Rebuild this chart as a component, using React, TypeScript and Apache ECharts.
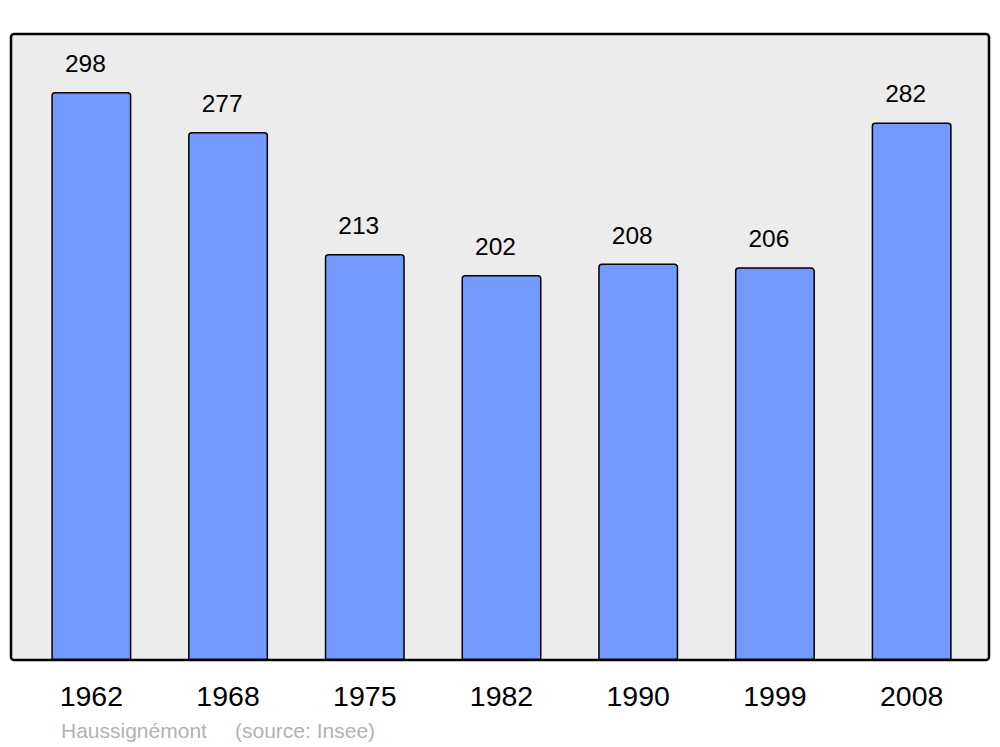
import React, { useEffect, useRef } from "react";
import * as echarts from "echarts";

const years = ["1962", "1968", "1975", "1982", "1990", "1999", "2008"];
const population = [298, 277, 213, 202, 208, 206, 282];
const footerName = "Haussignémont";
const footerSource = "(source: Insee)";

export default function App() {
  const ref = useRef<HTMLDivElement>(null);
  useEffect(() => {
    if (!ref.current) return;
    const chart = echarts.init(ref.current, undefined, { renderer: "svg" });
    chart.setOption({
      animation: false,
      textStyle: { fontFamily: "Liberation Sans, Arial, sans-serif" },
      graphic: [
        {
          type: "rect",
          z: -10,
          shape: { x: 11, y: 34, width: 978, height: 626, r: 3 },
          style: { fill: "#ececec", stroke: "#000", lineWidth: 2.5 },
        },
        {
          type: "text",
          x: 61,
          y: 730,
          style: {
            text: footerName,
            fill: "#b3b3b3",
            font: "21px 'Liberation Sans', Arial, sans-serif",
            textVerticalAlign: "middle",
          },
        },
        {
          type: "text",
          x: 235,
          y: 730,
          style: {
            text: footerSource,
            fill: "#b3b3b3",
            font: "21px 'Liberation Sans', Arial, sans-serif",
            textVerticalAlign: "middle",
          },
        },
      ],
      grid: { left: 23, right: 20, top: 34, bottom: 87 },
      xAxis: {
        type: "category",
        data: years,
        axisLine: { show: false },
        axisTick: { show: false },
        axisLabel: {
          color: "#000",
          fontSize: 28.5,
          margin: 21,
          fontFamily: "Liberation Sans, Arial, sans-serif",
        },
      },
      yAxis: {
        type: "value",
        min: 0,
        max: 328.4,
        show: false,
        splitLine: { show: false },
      },
      series: [
        {
          type: "bar",
          data: population,
          barWidth: 80,
          itemStyle: {
            color: "#7399ff",
            borderColor: "#000",
            borderWidth: 1.5,
            borderRadius: [3, 3, 0, 0],
          },
          label: {
            show: true,
            position: "top",
            distance: 16,
            offset: [-6, 0],
            color: "#000",
            fontSize: 24.5,
            fontFamily: "Liberation Sans, Arial, sans-serif",
          },
        },
      ],
    });
    return () => chart.dispose();
  }, []);
  return <div ref={ref} style={{ width: 1000, height: 747, position: "absolute", left: 0, top: 0 }} />;
}
